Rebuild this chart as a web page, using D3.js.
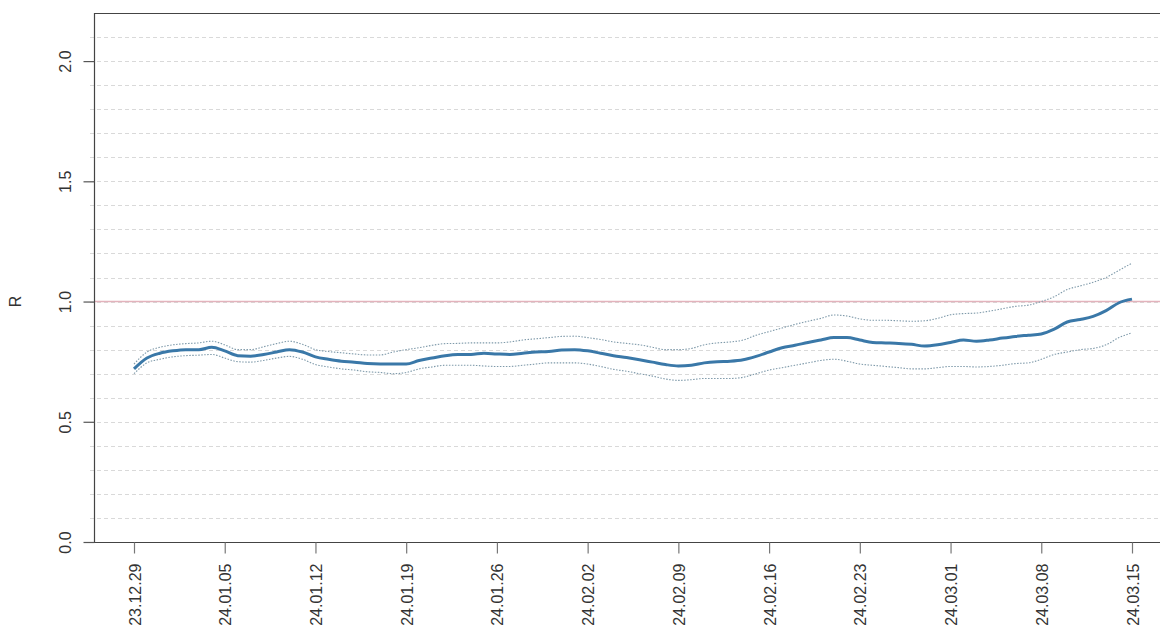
<!DOCTYPE html>
<html>
<head>
<meta charset="utf-8">
<script src="https://cdn.jsdelivr.net/npm/d3@7"></script>
<style>
  body { margin: 0; background: #fff; }
  svg { display: block; font-family: "Liberation Sans", Arial, sans-serif; }
</style>
</head>
<body>
<svg id="chart" width="1160" height="630"></svg>
<script>
// daily estimates of R, 2023-12-29 .. 2024-03-15
const startDate = "2023-12-29";
const rMean = [
  0.72, 0.765, 0.785, 0.795, 0.80, 0.80, 0.81, 0.795, 0.775, 0.773,
  0.78, 0.79, 0.80, 0.79, 0.77, 0.76, 0.752, 0.748, 0.742, 0.74,
  0.74, 0.74, 0.755, 0.765, 0.775, 0.78, 0.78, 0.785, 0.782, 0.78,
  0.785, 0.79, 0.792, 0.798, 0.80, 0.795, 0.785, 0.775, 0.767, 0.758,
  0.748, 0.738, 0.732, 0.735, 0.745, 0.75, 0.752, 0.758, 0.772, 0.79,
  0.808, 0.818, 0.83, 0.84, 0.85, 0.85, 0.84, 0.83, 0.828, 0.826,
  0.822, 0.815, 0.82, 0.83, 0.84, 0.835, 0.84, 0.848, 0.855, 0.86,
  0.865, 0.885, 0.915, 0.925, 0.938, 0.962, 0.995, 1.01
];
const rUpper = [
  0.74, 0.79, 0.81, 0.82, 0.825, 0.828, 0.835, 0.82, 0.80, 0.80,
  0.812, 0.825, 0.835, 0.822, 0.80, 0.792, 0.787, 0.782, 0.778, 0.778,
  0.79, 0.80, 0.808, 0.818, 0.825, 0.826, 0.828, 0.828, 0.828, 0.832,
  0.84, 0.845, 0.85, 0.855, 0.856, 0.85, 0.842, 0.832, 0.826, 0.82,
  0.81, 0.80, 0.80, 0.805, 0.82, 0.828, 0.832, 0.84, 0.86, 0.875,
  0.89, 0.905, 0.918, 0.93, 0.944, 0.94, 0.928, 0.922, 0.922, 0.92,
  0.918, 0.92, 0.93, 0.945, 0.95, 0.952, 0.96, 0.97, 0.98, 0.985,
  1.0, 1.02, 1.05, 1.065, 1.08, 1.10, 1.13, 1.16
];
const rLower = [
  0.70, 0.745, 0.76, 0.77, 0.775, 0.777, 0.78, 0.765, 0.75, 0.748,
  0.755, 0.765, 0.772, 0.76, 0.738, 0.728, 0.72, 0.715, 0.708, 0.705,
  0.70, 0.705, 0.72, 0.728, 0.735, 0.735, 0.735, 0.732, 0.73, 0.73,
  0.735, 0.74, 0.745, 0.745, 0.745, 0.74, 0.73, 0.718, 0.71, 0.70,
  0.69, 0.678, 0.672, 0.675, 0.68, 0.68, 0.68, 0.685, 0.70, 0.715,
  0.725, 0.735, 0.745, 0.755, 0.76, 0.752, 0.74, 0.735, 0.73, 0.725,
  0.72, 0.72, 0.725, 0.73, 0.73, 0.728, 0.73, 0.735, 0.742, 0.745,
  0.76, 0.78, 0.79, 0.80, 0.805, 0.82, 0.85, 0.87
];
const yTicks = [0, 0.5, 1.0, 1.5, 2.0];
const xTickLabels = [
  "23.12.29", "24.01.05", "24.01.12", "24.01.19", "24.01.26", "24.02.02",
  "24.02.09", "24.02.16", "24.02.23", "24.03.01", "24.03.08", "24.03.15"
];

const parse = d3.utcParse("%Y-%m-%d");
const parseTick = d3.utcParse("%y.%m.%d");
const t0 = parse(startDate);
const data = rMean.map((m, i) => ({
  date: d3.utcDay.offset(t0, i),
  mean: m,
  upper: rUpper[i],
  lower: rLower[i]
}));

const svg = d3.select("#chart");
const margin = { left: 94, top: 13, right: 1161, bottom: 542 };

// x: 23.12.29 at 134, 24.03.15 at 1132
const x = d3.scaleUtc()
  .domain([t0, data[data.length - 1].date])
  .range([134, 1132]);
const y = d3.scaleLinear().domain([0, 2.2]).range([margin.bottom, margin.top]);

// dashed grid every 0.1
const grid = d3.range(1, 22).map(d => d / 10);
svg.append("g")
  .selectAll("line")
  .data(grid)
  .join("line")
  .attr("x1", 90)
  .attr("x2", margin.right)
  .attr("y1", d => Math.round(y(d)) + 0.5)
  .attr("y2", d => Math.round(y(d)) + 0.5)
  .attr("stroke", "#d9d9d9")
  .attr("stroke-width", 1)
  .attr("stroke-dasharray", "4,3");

// reference line at R = 1
svg.append("line")
  .attr("x1", margin.left)
  .attr("x2", margin.right)
  .attr("y1", y(1))
  .attr("y2", y(1))
  .attr("stroke", "#e3b3bc")
  .attr("stroke-width", 1.6);

// box: left, top, bottom
svg.append("path")
  .attr("d", `M${margin.right},${margin.top + 0.5}H${margin.left + 0.5}V${margin.bottom + 0.5}H${margin.right}`)
  .attr("fill", "none")
  .attr("stroke", "#444")
  .attr("stroke-width", 1.2);

// y axis
const yAxis = svg.append("g")
  .attr("transform", `translate(${margin.left + 0.5},0)`)
  .call(d3.axisLeft(y).tickValues(yTicks).tickSize(11).tickFormat(d3.format(".1f")));
yAxis.select(".domain").remove();
yAxis.selectAll(".tick line").attr("stroke", "#555").attr("stroke-width", 1.2);
yAxis.selectAll(".tick text")
  .attr("x", null)
  .attr("dy", null)
  .attr("transform", "translate(-24,0) rotate(-90)")
  .attr("text-anchor", "middle")
  .attr("fill", "#333")
  .style("font-size", "16px")
  .style("font-family", "'Liberation Sans', Arial, sans-serif");

// x axis
const xAxis = svg.append("g")
  .attr("transform", `translate(0,${margin.bottom + 0.5})`)
  .call(d3.axisBottom(x)
    .tickValues(xTickLabels.map(s => parseTick(s)))
    .tickSize(11)
    .tickFormat(d3.utcFormat("%y.%m.%d")));
xAxis.select(".domain").remove();
xAxis.selectAll(".tick line").attr("stroke", "#777").attr("stroke-width", 1.2);
xAxis.selectAll(".tick text")
  .attr("x", null)
  .attr("y", null)
  .attr("dy", null)
  .attr("transform", "translate(6,21) rotate(-90)")
  .attr("text-anchor", "end")
  .attr("fill", "#333")
  .style("font-size", "16px")
  .style("font-family", "'Liberation Sans', Arial, sans-serif");

// y label
svg.append("text")
  .attr("transform", `translate(21,${y(1.0)}) rotate(-90)`)
  .attr("text-anchor", "middle")
  .attr("fill", "#333")
  .style("font-size", "16px")
  .text("R");

// interval bounds
const boundLine = key => d3.line()
  .x(d => x(d.date))
  .y(d => y(d[key]))
  .curve(d3.curveMonotoneX);

["upper", "lower"].forEach(key => {
  svg.append("path")
    .datum(data)
    .attr("d", boundLine(key))
    .attr("fill", "none")
    .attr("stroke", "#7f9aaa")
    .attr("stroke-width", 1.1)
    .attr("stroke-dasharray", "1.5,1.5");
});

svg.append("path")
  .datum(data)
  .attr("d", boundLine("mean"))
  .attr("fill", "none")
  .attr("stroke", "#3a78a8")
  .attr("stroke-width", 3)
  .attr("stroke-linejoin", "round");
</script>
</body>
</html>
